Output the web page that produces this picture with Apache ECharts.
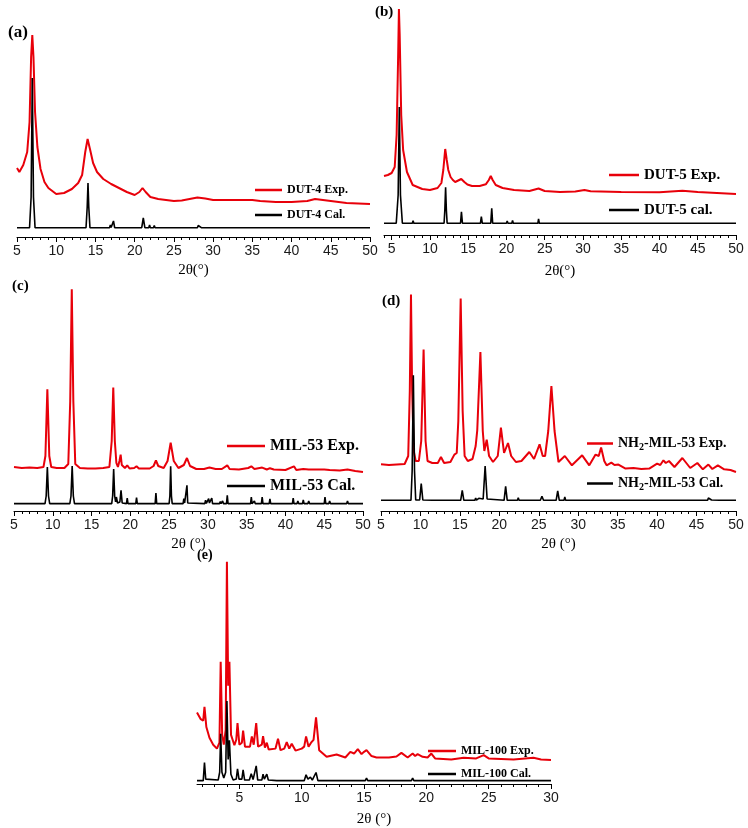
<!DOCTYPE html>
<html>
<head>
<meta charset="utf-8">
<script src="https://cdn.jsdelivr.net/npm/echarts@6/dist/echarts.min.js"></script>
<style>html,body{margin:0;padding:0;background:#fff}#c{width:748px;height:828px}</style>
</head>
<body>
<div id="c"></div>
<script>
// ---- Tick values ----
const majorTicksAD = [5,10,15,20,25,30,35,40,45,50];
const minorTicksAD = [5,6,7,8,9,10,11,12,13,14,15,16,17,18,19,20,21,22,23,24,25,26,27,28,29,30,31,32,33,34,35,36,37,38,39,40,41,42,43,44,45,46,47,48,49,50];
const minorTicksB = [4,5,6,7,8,9,10,11,12,13,14,15,16,17,18,19,20,21,22,23,24,25,26,27,28,29,30,31,32,33,34,35,36,37,38,39,40,41,42,43,44,45,46,47,48,49,50];
const majorTicksE = [5,10,15,20,25,30];
const minorTicksE = [2,3,4,5,6,7,8,9,10,11,12,13,14,15,16,17,18,19,20,21,22,23,24,25,26,27,28,29,30];

// ---- Panel labels / series names ----
const panelLabels = ['(a)','(b)','(c)','(d)','(e)'];
const expNames = ['DUT-4 Exp.','DUT-5 Exp.','MIL-53 Exp.','NH2-MIL-53 Exp.','MIL-100 Exp.'];
const calNames = ['DUT-4 Cal.','DUT-5 cal.','MIL-53 Cal.','NH2-MIL-53 Cal.','MIL-100 Cal.'];

// ---- (a) DUT-4: [2theta, intensity a.u.] ----
const dut4Exp = [[5,69],[5.3,65],[5.8,72],[6.3,85],[6.6,115],[6.8,180],[6.95,202],[7.1,180],[7.3,125],[7.6,90],[8,68],[8.5,55],[9,49],[10,43],[11,44],[12,48],[12.8,54],[13.3,62],[13.7,85],[14,98],[14.3,88],[14.7,74],[15.2,65],[16,58],[17,53],[18,49],[19,45],[20,42],[20.6,45],[21,49],[21.4,45],[22,40],[23,38],[24,37],[25,36],[26,36.5],[27,38],[28,39.5],[29,38.5],[30,37],[32,37],[35,37],[36,36],[38,35],[40,35],[42,36],[43,38],[44,37],[45,36],[47,34],[50,33]];
const dut4Cal = [[5,9.3],[6.6,9.3],[6.8,40],[6.95,159],[7.1,40],[7.3,9.3],[13.8,9.3],[13.95,30],[14.05,54],[14.15,30],[14.3,9.3],[16.8,9.3],[16.9,12],[17.0,9.5],[17.2,10],[17.3,16],[17.45,9.3],[20.9,9.3],[21.1,19],[21.3,9.3],[21.8,9.3],[21.9,12],[22.0,9.3],[22.4,9.3],[22.5,11.5],[22.6,9.3],[28,9.3],[28.1,11.5],[28.2,9.5],[28.35,13],[28.5,9.3],[35.5,9.3],[35.6,11],[35.7,9.3],[42.9,9.3],[43,11],[43.1,9.3],[50,9.3]];

// ---- (b) DUT-5 ----
const dut5Exp = [[4,59],[4.5,60],[5,62],[5.4,68],[5.65,100],[5.85,180],[5.95,226],[6.05,200],[6.25,120],[6.5,85],[7,63],[7.75,50],[9,46],[10,45],[11,47],[11.5,52],[11.75,65],[12.0,86],[12.2,75],[12.4,65],[12.7,58],[13,55],[13.3,53],[13.7,54.5],[14.1,56],[14.5,53],[14.9,50.5],[15.5,49],[16.5,49],[17.3,50.7],[17.7,55],[17.95,59],[18.2,55],[18.6,50],[19.5,47],[21,45],[23,44],[24.2,46.5],[25,44],[27,43],[29,43.5],[30.2,45],[31,43.7],[35,43],[40,42.7],[43,44.3],[45,43],[50,41]];
const dut5Cal = [[4,11.7],[5.6,11.7],[5.85,40],[6.0,128],[6.15,40],[6.4,11.7],[7.7,11.7],[7.8,14.3],[7.9,11.7],[9.1,11.7],[9.2,12.5],[9.3,11.7],[11.85,11.7],[11.95,25],[12.05,47.7],[12.15,25],[12.25,11.7],[14.0,11.7],[14.12,23.3],[14.25,11.7],[16.2,11.7],[16.3,13.5],[16.45,11.7],[16.6,11.7],[16.72,18.3],[16.85,11.7],[17.95,11.7],[18.08,26.7],[18.2,11.7],[20.0,11.7],[20.1,14],[20.2,11.7],[20.7,11.7],[20.8,14.5],[20.9,11.7],[24.1,11.7],[24.2,16],[24.3,11.7],[24.9,11.7],[25.0,13],[25.1,11.7],[25.5,11.7],[25.6,12.7],[25.7,11.7],[30.2,11.7],[30.3,13.5],[30.4,11.7],[36.1,11.7],[36.2,12.7],[36.3,11.7],[36.5,11.7],[36.6,12.7],[36.7,11.7],[42.9,11.7],[43,12.5],[43.1,11.7],[50,11.7]];

// ---- (c) MIL-53 ----
const mil53Exp = [[5,44],[6,43],[7,43.5],[8,43],[8.8,44],[9.05,55],[9.3,121.7],[9.55,55],[9.8,44],[10.5,43],[11.5,43],[12.0,47],[12.25,110],[12.45,221.7],[12.65,110],[12.9,47],[13.5,43],[14.5,42.5],[15.5,42.5],[16.5,43],[17.3,44],[17.6,70],[17.8,123.4],[18.0,70],[18.2,48],[18.4,44],[18.6,50],[18.75,56.4],[18.9,46],[19.3,43],[19.6,45.7],[19.9,42.5],[20.5,43],[20.8,44.7],[21.1,42.5],[22.5,42.5],[23.0,45],[23.3,50.7],[23.6,45],[24.3,43],[24.8,50],[25.2,68.4],[25.6,50],[26.2,43],[26.9,46],[27.3,53],[27.7,45],[28.5,42],[29.5,42],[30.2,43.5],[31,42],[31.8,42],[32.5,45.7],[32.8,42],[34,41.5],[35.2,43],[35.6,44.7],[36,42],[37,43.4],[37.6,41.5],[38,42.8],[38.5,41.5],[40,41],[41.1,44.7],[41.4,41],[42.3,42],[43,41.5],[45,41.5],[45.7,41],[47,40.5],[48,41.5],[49,40],[50,39]];
const mil53Cal = [[5,7.4],[9.0,7.4],[9.15,15],[9.3,44],[9.45,15],[9.6,7.4],[12.2,7.4],[12.35,15],[12.5,45],[12.65,15],[12.8,7.4],[17.6,7.4],[17.72,15],[17.85,42],[17.98,15],[18.1,9],[18.2,14],[18.35,8],[18.65,9],[18.8,20.7],[18.95,8],[19.5,7.4],[19.6,13],[19.7,7.4],[20.7,7.4],[20.8,13.4],[20.9,7.4],[23.2,7.4],[23.3,18],[23.4,7.4],[25.0,7.4],[25.1,15],[25.2,44.7],[25.3,15],[25.4,7.4],[26.8,7.4],[26.9,12.4],[27.0,8],[27.2,10],[27.3,25.7],[27.4,8],[29.6,7.4],[29.7,10.7],[29.8,7.6],[30.0,8],[30.1,12.4],[30.2,8],[30.4,8],[30.5,13],[30.6,7.4],[31.5,7.4],[31.6,9.5],[31.7,7.4],[31.8,7.4],[31.9,10],[32.0,7.4],[32.4,7.4],[32.5,15.7],[32.6,7.4],[34.1,7.4],[34.2,9],[34.3,7.4],[35.5,7.4],[35.6,14],[35.7,7.4],[35.9,7.4],[36,10],[36.1,7.4],[36.9,7.4],[37,14],[37.1,7.4],[37.9,7.4],[38,12],[38.1,7.4],[39.6,7.4],[39.7,9],[39.8,7.4],[40.9,7.4],[41,13],[41.1,7.4],[41.5,7.4],[41.6,10],[41.7,7.4],[42.2,7.4],[42.3,11],[42.4,7.4],[42.9,7.4],[43,10],[43.1,7.4],[45,7.4],[45.1,14],[45.2,7.4],[45.6,7.4],[45.7,10],[45.8,7.4],[47.9,7.4],[48,10],[48.1,7.4],[48.9,7.4],[49,9],[49.1,7.4],[50,7.4]];

// ---- (d) NH2-MIL-53 ----
const nh2Exp = [[5,46.7],[6,46],[7,46.5],[8,47],[8.45,55],[8.65,120],[8.8,216.4],[8.95,120],[9.15,60],[9.4,50],[9.8,50],[10.1,70],[10.4,161.4],[10.65,70],[10.9,50],[11.5,48],[12.2,48],[12.6,54],[13,48],[13.8,49],[14.3,56.4],[14.6,58],[14.8,90],[15.1,212.4],[15.35,100],[15.6,55],[16,50],[16.6,52],[17.0,65],[17.2,80.7],[17.6,159],[17.9,80],[18.1,60],[18.4,71.4],[18.7,55],[19.2,49],[19.8,55],[20.2,83.4],[20.6,58],[21.1,68],[21.5,55],[22.1,49],[22.8,50],[23.8,59],[24.4,52],[25.1,66.7],[25.5,55],[25.8,55],[26.2,80],[26.6,125],[27.0,80],[27.5,49],[28.3,55],[29.2,45.7],[30.5,55.7],[31.4,45.7],[32.2,56.4],[32.6,55],[32.9,63.4],[33.3,50],[33.6,45.7],[34.2,48.4],[34.6,46],[35.1,46.4],[36,42.4],[37,43],[38,42],[39,42.4],[40,47.4],[40.4,46],[40.8,50.7],[41.1,48],[41.5,50],[42.2,44],[43.2,53],[44.2,43],[45.1,48],[45.8,41.7],[46.5,46.4],[47,42],[47.7,45.7],[48.5,41.7],[49.3,41],[50,39]];
const nh2Cal = [[5,10.7],[8.8,10.7],[8.95,40],[9.1,135.7],[9.25,40],[9.4,11],[9.9,11],[10.1,27.4],[10.3,11],[11.5,10.7],[11.6,12.5],[11.7,10.7],[15.1,10.7],[15.3,20.7],[15.5,10.7],[16.9,10.7],[17.0,13],[17.1,10.9],[17.3,11],[17.4,12.7],[17.5,10.7],[17.95,12],[18.2,45],[18.45,12],[20.6,10.7],[20.8,24.7],[21.0,10.7],[22.3,10.7],[22.4,13.4],[22.5,10.7],[23.1,10.7],[23.2,11.7],[23.3,10.7],[25.2,10.7],[25.4,14.7],[25.6,10.7],[27.2,10.7],[27.4,20],[27.6,10.7],[28.2,10.7],[28.3,14],[28.4,10.7],[32.6,10.7],[32.7,12],[32.8,10.7],[33.5,10.7],[33.6,12.7],[33.7,10.7],[36.9,10.7],[37,11.7],[37.1,10.7],[40.9,10.7],[41,12],[41.1,10.7],[42.5,10.7],[42.6,12],[42.7,10.7],[43.9,10.7],[44,12],[44.1,10.7],[46.4,10.7],[46.5,13],[46.6,11],[46.9,11],[47,12.4],[47.1,10.7],[47.9,10.7],[48,11.4],[48.1,10.7],[50,10.7]];

// ---- (e) MIL-100 ----
const mil100Exp = [[1.6,72.7],[1.9,66],[2.1,64.4],[2.2,78.4],[2.35,58],[2.6,47],[2.9,40],[3.2,36],[3.4,42],[3.5,124.4],[3.62,50],[3.75,40],[3.9,55],[4.0,226],[4.1,100],[4.2,124.4],[4.33,50],[4.6,39.4],[4.75,45],[4.85,62],[5.0,40],[5.2,42],[5.3,54.4],[5.45,38],[5.85,38],[6.0,48.4],[6.15,40],[6.25,42],[6.35,62],[6.5,38],[6.8,40],[6.9,48.7],[7.05,37],[7.2,42],[7.35,35],[7.9,36],[8.1,46],[8.3,34.4],[8.6,36],[8.8,42.7],[9.0,36],[9.2,41],[9.5,34],[10.0,36],[10.2,38],[10.35,48.4],[10.55,38],[10.75,42],[10.95,45],[11.15,67.7],[11.4,34.4],[12,27.7],[12.8,30],[13.5,27],[13.9,32.7],[14.2,31],[14.5,35.4],[14.8,30.4],[15.0,32.7],[15.2,34.4],[15.6,28.4],[16,27],[17,27],[17.6,28],[18.0,31.7],[18.5,27],[18.9,31],[19.1,28.5],[19.3,30.4],[19.7,27.7],[20.1,27],[20.4,31],[20.7,26],[22,25],[23,26.7],[24,26],[24.6,29.4],[25,26],[27,25],[28.6,26.7],[29.2,25],[30,24.4]];
const mil100Cal = [[1.6,3.4],[2.1,3.4],[2.2,21.7],[2.3,5],[3.3,4],[3.42,12],[3.5,51],[3.6,12],[3.75,6],[3.9,12],[4.0,84.4],[4.1,25],[4.2,44.4],[4.32,10],[4.5,4],[4.75,5],[4.85,15.4],[4.97,5],[5.2,5],[5.3,14.4],[5.42,4],[5.8,4],[5.95,10.4],[6.1,4.5],[6.25,5],[6.35,18.4],[6.47,4],[6.8,4],[6.9,10],[7.0,5],[7.1,5],[7.2,10],[7.32,4],[8,3.4],[10.2,3.4],[10.35,9.4],[10.5,5],[10.7,7],[10.85,4],[11.0,5],[11.15,11.7],[11.3,3.4],[15.1,3.4],[15.2,6],[15.3,3.4],[18.8,3.4],[18.9,6],[19.0,3.4],[19.2,3.4],[19.3,5.4],[19.4,3.4],[30,3.4]];

const expData = [dut4Exp, dut5Exp, mil53Exp, nh2Exp, mil100Exp];
const calData = [dut4Cal, dut5Cal, mil53Cal, nh2Cal, mil100Cal];

// ---- Layout (styles/positions) ----
const SERIF = 'Liberation Serif, Times New Roman, serif';
const SANS = 'Liberation Sans, Arial, sans-serif';
const grids = [
  {left:17, right:378, top:30, bottom:591},
  {left:384, right:12, top:5, bottom:593},
  {left:14, right:385, top:281, bottom:317},
  {left:381, right:12, top:281, bottom:317},
  {left:197, right:197, top:555, bottom:40}
];
const yMax = [207, 230, 230, 230, 233];
const xRange = [[5,50],[4,50],[5,50],[5,50],[1.6,30]];
const majors = [majorTicksAD, majorTicksAD, majorTicksAD, majorTicksAD, majorTicksE];
const minors = [minorTicksAD, minorTicksB, minorTicksAD, minorTicksAD, minorTicksE];
const axisNames = ['2θ(°)','2θ(°)','2θ (°)','2θ (°)','2θ (°)'];
const nameGaps = [26, 29, 26, 26, 28];
const titlePos = [[8,24,17],[375,5,15],[12,279,15],[382,294,15],[197,548,14]];
// legend: [left, expCenterY, calCenterY, itemWidth, fontSize]
const legendPos = [[255,190,215,27,12],[609,175,210,30,15],[227,446,486,38,16],[587,442,482,26,14],[428,751,774,28,12]];

const xAxes = [], yAxes = [], series = [], titles = [], legends = [];
for (let i = 0; i < 5; i++) {
  xAxes.push({
    type:'value', gridIndex:i, min:xRange[i][0], max:xRange[i][1], position:'bottom',
    axisLine:{show:true, onZero:false, lineStyle:{color:'#000', width:1}},
    axisTick:{show:true, customValues:majors[i], length:5, lineStyle:{color:'#000', width:1}},
    axisLabel:{customValues:majors[i], fontFamily:SANS, fontSize:14, color:'#1a1a1a', margin:7},
    splitLine:{show:false},
    name:axisNames[i], nameLocation:'middle', nameGap:nameGaps[i],
    nameTextStyle:{fontFamily:SERIF, fontSize:15, color:'#000'}
  });
  xAxes.push({
    type:'value', gridIndex:i, min:xRange[i][0], max:xRange[i][1], position:'bottom',
    axisLine:{show:false}, axisLabel:{show:false}, splitLine:{show:false},
    axisTick:{show:true, customValues:minors[i], length:3, lineStyle:{color:'#000', width:1}}
  });
  yAxes.push({type:'value', gridIndex:i, min:0, max:yMax[i], show:false});
  series.push({
    name:expNames[i], type:'line', xAxisIndex:2*i, yAxisIndex:i, data:expData[i],
    symbol:'none', lineStyle:{color:'#e8000a', width:2}, itemStyle:{color:'#e8000a'}, z:2, silent:true
  });
  series.push({
    name:calNames[i], type:'line', xAxisIndex:2*i, yAxisIndex:i, data:calData[i],
    symbol:'none', lineStyle:{color:'#000', width:1.6}, itemStyle:{color:'#000'}, z:3, silent:true
  });
  titles.push({text:panelLabels[i], left:titlePos[i][0], top:titlePos[i][1], padding:0,
    textStyle:{fontFamily:SERIF, fontWeight:'bold', fontSize:titlePos[i][2], color:'#000'}});
  const lp = legendPos[i];
  const fs = lp[4];
  const rich = {s:{fontFamily:SERIF, fontWeight:'bold', fontSize:Math.round(fs*0.72), lineHeight:Math.round(fs*0.72), padding:[Math.round(fs*0.5),0,0,0], color:'#000'}};
  const fmt = n => n.replace('NH2', 'NH{s|2}');
  [[expNames[i], lp[1]], [calNames[i], lp[2]]].forEach(([nm, cy]) => {
    legends.push({
      data:[nm], left:lp[0], top:cy - fs/2, padding:0, itemWidth:lp[3], itemHeight:2.5,
      icon:'rect', selectedMode:false, formatter:fmt,
      textStyle:{fontFamily:SERIF, fontWeight:'bold', fontSize:fs, color:'#000', rich:rich}
    });
  });
}

const chart = echarts.init(document.getElementById('c'), null, {renderer:'canvas'});
chart.setOption({
  animation:false,
  backgroundColor:'#fff',
  title:titles,
  legend:legends,
  grid:grids,
  xAxis:xAxes,
  yAxis:yAxes,
  series:series
});
</script>
</body>
</html>
